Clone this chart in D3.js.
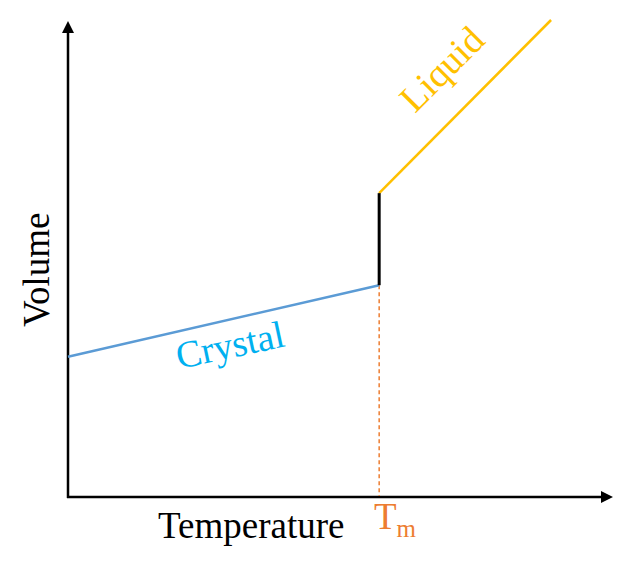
<!DOCTYPE html>
<html><head><meta charset="utf-8">
<script src="https://cdn.jsdelivr.net/npm/d3@7"></script>
<style>body{margin:0;background:#fff}svg{display:block}text{font-family:"Liberation Serif","Times New Roman",serif}</style>
</head><body><div id="c"></div>
<script>
const crystalT = [0, 57.2];
const crystalV = [29.4, 44.4];
const liquidT = [57.2, 88.8];
const liquidV = [63.7, 100];
const Tm = 57.2;
const labels = {x: "Temperature", y: "Volume", crystal: "Crystal", liquid: "Liquid"};

const W = 626, H = 571;
const svg = d3.select("#c").append("svg").attr("width", W).attr("height", H);
const x = d3.scaleLinear().domain([0, 100]).range([68, 612]);
const y = d3.scaleLinear().domain([0, 100]).range([497, 20]);
const line = d3.line().x(d => x(d[0])).y(d => y(d[1]));

// axes
const x0 = x(0), y0 = y(0);
svg.append("line").attr("x1", x0).attr("y1", y0 + 1).attr("x2", x0).attr("y2", 30)
  .attr("stroke", "#000").attr("stroke-width", 2.5);
svg.append("path").attr("d", `M${x0},21 L${x0-6},33 L${x0+6},33 Z`).attr("fill", "#000");
svg.append("line").attr("x1", x0 - 1).attr("y1", y0).attr("x2", 604).attr("y2", y0)
  .attr("stroke", "#000").attr("stroke-width", 2.5);
svg.append("path").attr("d", `M613,${y0} L601,${y0-6} L601,${y0+6} Z`).attr("fill", "#000");

// dashed Tm line
svg.append("line").attr("x1", x(Tm)).attr("x2", x(Tm)).attr("y1", y(crystalV[1])).attr("y2", y0 - 1)
  .attr("stroke", "#ED7D31").attr("stroke-width", 1.5).attr("stroke-dasharray", "4,3");

// crystal
svg.append("path").attr("d", line(crystalT.map((t, i) => [t, crystalV[i]])))
  .attr("fill", "none").attr("stroke", "#5B9BD5").attr("stroke-width", 2.5);
// liquid
svg.append("path").attr("d", line(liquidT.map((t, i) => [t, liquidV[i]])))
  .attr("fill", "none").attr("stroke", "#FFC000").attr("stroke-width", 2.5);
// melting jump
svg.append("line").attr("x1", x(Tm)).attr("x2", x(Tm)).attr("y1", y(crystalV[1])).attr("y2", y(liquidV[0]))
  .attr("stroke", "#000").attr("stroke-width", 3);

// labels
svg.append("text").attr("x", 158).attr("y", 538).attr("font-size", 37).attr("fill", "#000").text(labels.x);
svg.append("text").attr("transform", "translate(49,327) rotate(-90)").attr("font-size", 37).attr("fill", "#000").text(labels.y);
const tm = svg.append("text").attr("x", 374).attr("y", 529).attr("font-size", 37).attr("fill", "#ED7D31");
tm.append("tspan").text("T");
tm.append("tspan").attr("font-size", 25).attr("dy", 8).text("m");
svg.append("text").attr("transform", "translate(179,369) rotate(-12)").attr("font-size", 38).attr("fill", "#00B0F0").text(labels.crystal);
svg.append("text").attr("transform", "translate(415,114) rotate(-45)").attr("font-size", 38).attr("fill", "#FFC000").text(labels.liquid);
</script></body></html>
